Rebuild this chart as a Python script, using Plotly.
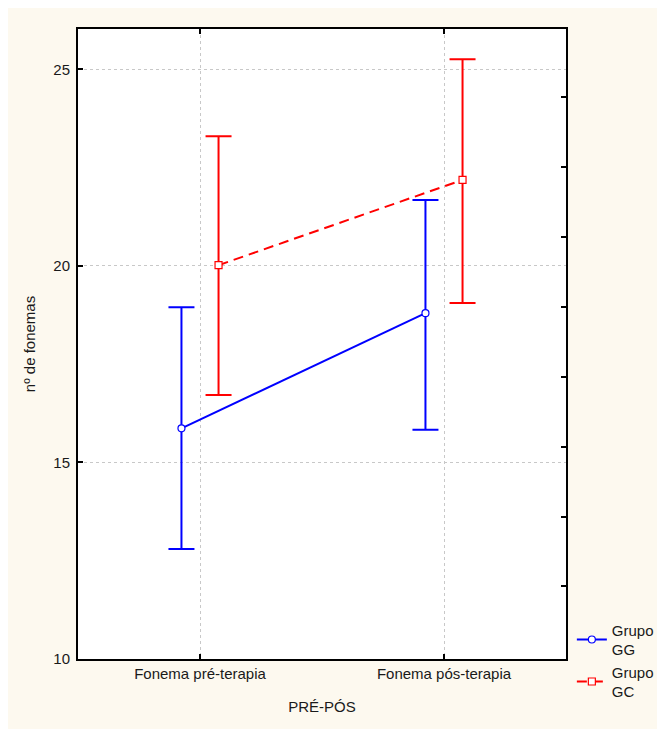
import plotly.graph_objects as go

categories = ["Fonema pré-terapia", "Fonema pós-terapia"]
cat_pos = [0, 1]
group_names = ["Grupo<br>GG", "Grupo<br>GC"]

gg_mean = [15.87, 18.80]
gg_upper = [18.95, 21.68]
gg_lower = [12.80, 15.83]

gc_mean = [20.02, 22.19]
gc_upper = [23.30, 25.26]
gc_lower = [16.72, 19.06]

y_ticks = [10, 15, 20, 25]
right_ticks = [11.86, 13.61, 15.39, 17.17, 18.95, 20.74, 22.52, 24.30]

offset = 0.076
BLUE = "#0000ff"
RED = "#ff0000"
CREAM = "#fdf9ef"
FONT = "Liberation Sans, Arial, sans-serif"

fig = go.Figure()

def add_group(means, upper, lower, sign, color, symbol, dash, name):
    xs = [p + sign * offset for p in cat_pos]
    fig.add_trace(go.Scatter(
        x=xs, y=means, name=name, mode="lines+markers",
        line=dict(color=color, width=2, dash=dash),
        marker=dict(symbol=symbol, size=7, color="white",
                    line=dict(color=color, width=1.2)),
        error_y=dict(type="data", symmetric=False,
                     array=[u - m for u, m in zip(upper, means)],
                     arrayminus=[m - l for m, l in zip(means, lower)],
                     color=color, thickness=2, width=13),
    ))

add_group(gg_mean, gg_upper, gg_lower, -1, BLUE, "circle", "solid", group_names[0])
add_group(gc_mean, gc_upper, gc_lower, 1, RED, "square", "10px,6px", group_names[1])

# invisible trace to carry the right-hand axis ticks
fig.add_trace(go.Scatter(x=[None], y=[None], yaxis="y2", showlegend=False, hoverinfo="skip"))

fig.update_layout(
    width=657, height=721,
    margin=dict(l=70, r=99, t=21, b=70, autoexpand=False),
    paper_bgcolor=CREAM,
    plot_bgcolor="white",
    font=dict(family=FONT, size=15, color="#1a1a1a"),
    showlegend=True,
    legend=dict(x=1.012, xanchor="left", y=-0.077, yanchor="bottom",
                xref="paper", yref="paper",
                bgcolor="rgba(0,0,0,0)", font=dict(size=15),
                tracegroupgap=2, itemwidth=30),
    xaxis=dict(
        range=[-0.5, 1.5], tickmode="array", tickvals=cat_pos, ticktext=categories,
        showgrid=True, gridcolor="#c8c8c8", griddash="dot", gridwidth=1,
        showline=True, linecolor="black", linewidth=2, mirror="ticks",
        ticks="inside", ticklen=5, tickwidth=2, tickcolor="black",
        zeroline=False,
        title=dict(text="PRÉ-PÓS", standoff=20, font=dict(size=15)),
    ),
    yaxis=dict(
        range=[10, 26.03], tickmode="array", tickvals=y_ticks,
        showgrid=True, gridcolor="#c8c8c8", griddash="dot", gridwidth=1,
        showline=True, linecolor="black", linewidth=2, mirror=True,
        ticks="inside", ticklen=5, tickwidth=2, tickcolor="black",
        zeroline=False, ticklabelstandoff=3,
        title=dict(text="nº de fonemas", standoff=14, font=dict(size=15)),
    ),
    yaxis2=dict(
        range=[10, 26.03], overlaying="y", side="right", tickmode="array",
        tickvals=right_ticks, showticklabels=False, showgrid=False,
        ticks="inside", ticklen=5, tickwidth=2, tickcolor="black",
        showline=False, zeroline=False,
    ),
)

fig.write_html("out.html")
